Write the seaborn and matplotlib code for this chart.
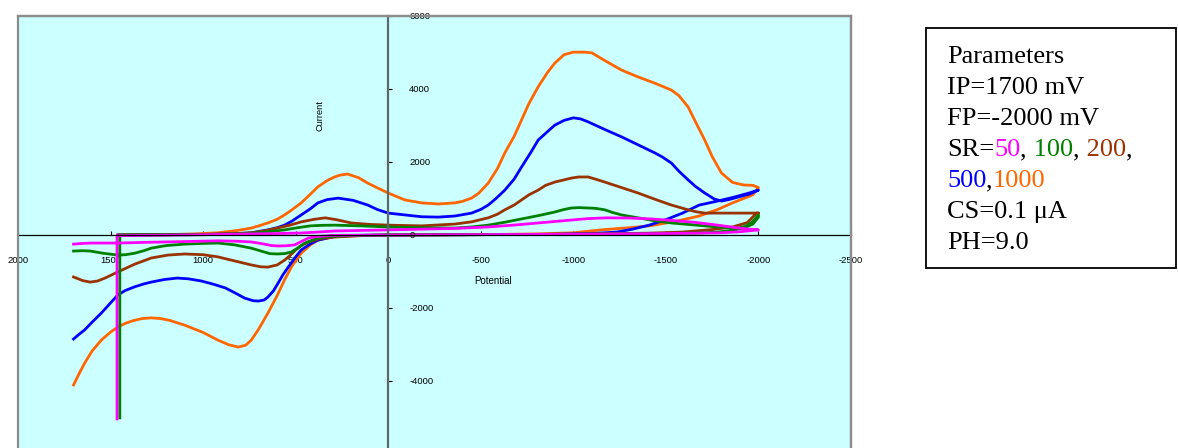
import matplotlib
matplotlib.use("Agg")
import matplotlib.pyplot as plt
import matplotlib.transforms as mtransforms
import seaborn as sns
import pandas as pd
from matplotlib.patches import Rectangle

# ---------------- data (potential mV, current) ----------------
# each series: forward scan 1700 -> -2000, then reverse scan back
sr1000_pot = [1700, 1670, 1640, 1600, 1550, 1500, 1460, 1420, 1380, 1330, 1280, 1230, 1180, 1100, 1000,
              920, 860, 810, 770, 740, 700, 650, 600, 560, 520, 470, 420, 380, 300, 200, 100, 0,
              -500, -800, -1000, -1150, -1300, -1410, -1550, -1680, -1780, -1860, -1930, -1970, -2000,
              -1970, -1920, -1860, -1800, -1750, -1710, -1660, -1620, -1570, -1530, -1440, -1350, -1260,
              -1180, -1100, -1060, -1000, -950, -900, -860, -810, -760, -720, -680, -630, -590, -540,
              -490, -450, -400, -360, -270, -180, -90, 0, 50, 110, 160, 220, 260, 290, 330, 380, 420,
              470, 520, 560, 600, 650, 700, 740, 820, 920, 1050, 1200, 1460]
sr1000_cur = [-4110, -3800, -3510, -3180, -2880, -2660, -2520, -2420, -2350, -2290, -2270, -2290, -2340, -2470, -2670,
              -2880, -3010, -3070, -3020, -2880, -2580, -2140, -1660, -1230, -850, -500, -270, -140, -60, -30, -10, 0,
              10, 30, 60, 140, 200, 250, 370, 520, 700, 880, 1020, 1100, 1300,
              1360, 1370, 1440, 1700, 2150, 2600, 3100, 3510, 3820, 3970, 4160, 4330, 4520,
              4750, 4990, 5010, 5010, 4940, 4710, 4450, 4060, 3600, 3150, 2700, 2250, 1820, 1420,
              1150, 1010, 920, 880, 850, 880, 960, 1150, 1270, 1420, 1570, 1670, 1640, 1590, 1490, 1320, 1120,
              880, 690, 550, 430, 330, 250, 190, 120, 60, 30, 10, 0]

sr500_pot = [1700, 1670, 1640, 1600, 1550, 1500, 1460, 1420, 1370, 1320, 1280, 1210, 1140, 1080, 1010,
             950, 880, 830, 775, 730, 700, 670, 650, 620, 595, 570, 540, 500, 470, 420, 380, 300, 200, 0,
             -500, -900, -1100, -1235, -1320, -1410, -1500, -1590, -1680, -1780, -1870, -1950, -2000,
             -1950, -1890, -1840, -1800, -1760, -1710, -1660, -1620, -1570, -1530, -1480, -1440, -1350,
             -1260, -1170, -1080, -1040, -1000, -950, -900, -860, -810, -770, -720, -680, -630, -580,
             -540, -500, -450, -360, -270, -180, -90, 0, 60, 110, 190, 270, 330, 380, 420, 470, 520,
             560, 600, 650, 740, 850, 1000, 1460]
sr500_cur = [-2850, -2720, -2600, -2390, -2140, -1860, -1640, -1520, -1420, -1340, -1290, -1220, -1180, -1200, -1260,
             -1340, -1450, -1580, -1730, -1800, -1810, -1780, -1700, -1530, -1320, -1100, -880, -600, -410, -240, -140, -50, -10, 0,
             10, 20, 40, 80, 160, 270, 420, 600, 820, 930, 1040, 1150, 1230,
             1120, 1040, 970, 930, 990, 1150, 1330, 1510, 1750, 1970, 2140, 2250, 2470,
             2690, 2890, 3100, 3180, 3210, 3140, 3010, 2830, 2600, 2260, 1860, 1530, 1230, 990,
             820, 700, 600, 520, 490, 500, 550, 600, 700, 820, 950, 1010, 970, 880, 720, 550, 380,
             270, 200, 140, 60, 30, 15, 0]

sr200_pot = [1700, 1650, 1610, 1570, 1530, 1460, 1370, 1280, 1190, 1100, 1000, 920, 830, 740, 690, 650,
             600, 560, 530, 500, 470, 430, 370, 290, 150, 0,
             -1000, -1400, -1590, -1750, -1860, -1940, -1990,
             -2000, -1890, -1800, -1710, -1660, -1620, -1530, -1440, -1350, -1260, -1170, -1120, -1080,
             -1030, -990, -900, -850, -810, -760, -720, -680, -630, -590, -540, -450, -360, -180, 0,
             100, 200, 280, 340, 400, 470, 530, 600, 670, 740, 850, 1000, 1460]
sr200_cur = [-1150, -1250, -1290, -1260, -1180, -1010, -800, -630, -550, -520, -540, -600, -710, -820, -870, -880,
             -820, -690, -560, -410, -290, -190, -100, -50, -15, 0,
             20, 50, 80, 150, 220, 340, 600,
             600, 600, 600, 600, 640, 690, 820, 980, 1150, 1300, 1450, 1530, 1590,
             1590, 1560, 1450, 1360, 1230, 1100, 960, 820, 690, 570, 470, 360, 300, 250, 270,
             290, 330, 420, 470, 430, 360, 270, 190, 110, 60, 30, 15, 0]

sr100_pot = [1700, 1650, 1610, 1540, 1460, 1420, 1370, 1320, 1280, 1200, 1100, 1000, 920, 830, 740,
             680, 640, 600, 560, 525, 490, 450, 400, 340, 200, 0,
             -1000, -1500, -1700, -1780, -1860, -1920, -1970, -2000,
             -2000, -1980, -1960, -1930, -1890, -1800, -1710, -1620, -1530, -1440, -1350, -1260, -1210,
             -1170, -1120, -1080, -1030, -990, -950, -900, -810, -720, -630, -540, -450, -360, -180, 0,
             150, 290, 360, 420, 490, 560, 650, 740, 850, 1000, 1450, 1450]
sr100_cur = [-440, -430, -440, -500, -550, -540, -500, -430, -360, -290, -250, -230, -220, -270, -360,
             -450, -510, -520, -510, -470, -360, -220, -120, -50, -15, 0,
             20, 40, 60, 80, 130, 190, 300, 490,
             550, 430, 330, 240, 190, 210, 250, 290, 330, 390, 470, 550, 620,
             690, 730, 740, 750, 740, 700, 630, 530, 440, 350, 270, 220, 190, 200, 220,
             250, 270, 265, 250, 200, 140, 90, 50, 25, 10, 0, -5010]

sr50_pot = [1700, 1650, 1600, 1460, 1300, 1100, 920, 820, 740, 680, 630, 595, 550, 505, 470, 430, 380, 300, 0,
            -1000, -1500, -1800, -1900, -2000,
            -1950, -1880, -1780, -1650, -1530, -1420, -1300, -1180, -1080, -990, -900, -810, -700, -540,
            -360, -180, 0, 150, 290, 380, 470, 600, 740, 900, 1100, 1300, 1465, 1465]
sr50_cur = [-250, -230, -220, -220, -200, -180, -160, -170, -190, -240, -290, -300, -295, -270, -180, -80, -40, -10, 0,
            20, 40, 60, 90, 140,
            160, 200, 270, 350, 400, 440, 465, 470, 450, 410, 370, 330, 280, 220,
            180, 160, 140, 125, 110, 80, 55, 40, 30, 15, 0, -10, -20, -5040]

x_ticks = [2000, 1500, 1000, 500, 0, -500, -1000, -1500, -2000, -2500]
x_tick_labels = ["2000", "1500", "1000", "500", "0", "-500", "-1000", "-1500", "-2000", "-2500"]
y_ticks = [-6000, -4000, -2000, 0, 2000, 4000, 6000]
y_tick_labels = ["-6000", "-4000", "-2000", "0", "2000", "4000", "6000"]

series = [
    ("1000", sr1000_pot, sr1000_cur, "#FF6600"),
    ("500", sr500_pot, sr500_cur, "#0000FF"),
    ("200", sr200_pot, sr200_cur, "#993300"),
    ("100", sr100_pot, sr100_cur, "#008000"),
    ("50", sr50_pot, sr50_cur, "#FF00FF"),
]

plt.rcParams['axes.unicode_minus'] = False
plt.rcParams['font.family'] = ['Liberation Sans', 'DejaVu Sans']

W, H = 1178, 448
fig = plt.figure(figsize=(W / 100, H / 100), dpi=100)
fig.patch.set_facecolor("white")

def fx(px):
    return px / W

def fy(py):
    return 1 - py / H

ax = fig.add_axes([fx(18), fy(454), (851 - 18) / W, (454 - 16) / H])
ax.set_facecolor("#CCFFFF")

for name, pot, cur, col in series:
    df = pd.DataFrame({"Potential": pot, "Current": cur})
    sns.lineplot(data=df, x="Potential", y="Current", sort=False, estimator=None,
                 color=col, lw=2.0, ax=ax, legend=False)

ax.set_xlim(2000, -2500)
ax.set_ylim(-6000, 6000)
ax.set_xlabel("")
ax.set_ylabel("")

ax.set_xticks(x_ticks, x_tick_labels)
ax.set_yticks(y_ticks)
ax.tick_params(axis="x", direction="in", length=3, width=0.8, pad=15, labelsize=6.8)
ax.tick_params(axis="y", direction="in", length=3, width=0.8, labelleft=False)

# y tick labels placed to the right of the crossing y axis (left aligned)
ylab_tr = mtransforms.offset_copy(ax.transData, fig=fig, x=21, y=0, units="dots")
for val, lab in zip(y_ticks, y_tick_labels):
    if -6000 < val:
        ax.text(0, val, lab, transform=ylab_tr, ha="left", va="center", size=6.8,
                clip_on=False)

ax.spines["left"].set_position(("data", 0))
ax.spines["left"].set_color("#5E6A6A")
ax.spines["left"].set_linewidth(1.6)
ax.spines["bottom"].set_position(("data", 0))
ax.spines["bottom"].set_color("black")
ax.spines["bottom"].set_linewidth(0.9)
for s in ["top", "right"]:
    ax.spines[s].set_color("#8C8C8C")
    ax.spines[s].set_linewidth(1.6)
ax.add_patch(Rectangle((0, 0), 1, 1, transform=ax.transAxes, fill=False,
                       ec="#8C8C8C", lw=1.6, clip_on=False, zorder=5))

# axis titles
fig.text(fx(320), fy(116), "Current", rotation=90, ha="center", va="center", size=6.6)
fig.text(fx(493), fy(281), "Potential", ha="center", va="center", size=7.0)

# parameter box
fig.add_artist(Rectangle((fx(926), fy(268)), (1176 - 926) / W, (268 - 28) / H,
                         transform=fig.transFigure, fill=False, ec="black", lw=1.3))

box_font = dict(family="Liberation Serif", size=19)
lines = [
    [("Parameters", "black")],
    [("IP=1700 mV", "black")],
    [("FP=-2000 mV", "black")],
    [("SR=", "black"), ("50", "#FF00FF"), (",", "black"), (" 100", "#008000"),
     (",", "black"), (" 200", "#993300"), (",", "black")],
    [("500", "#0000FF"), (",", "black"), ("1000", "#FF6600")],
    [("CS=0.1 \u03bcA", "black")],
    [("PH=9.0", "black")],
]
base0 = 63
step = 31
for i, pieces in enumerate(lines):
    yb = base0 + i * step
    prev = fig.text(fx(947), fy(yb), pieces[0][0], color=pieces[0][1],
                    ha="left", va="baseline", **box_font)
    for txt, col in pieces[1:]:
        prev = ax.annotate(txt, xy=(1, 0), xycoords=prev, ha="left", va="bottom",
                           color=col, annotation_clip=False, **box_font)

fig.savefig("out.png", dpi=100)
